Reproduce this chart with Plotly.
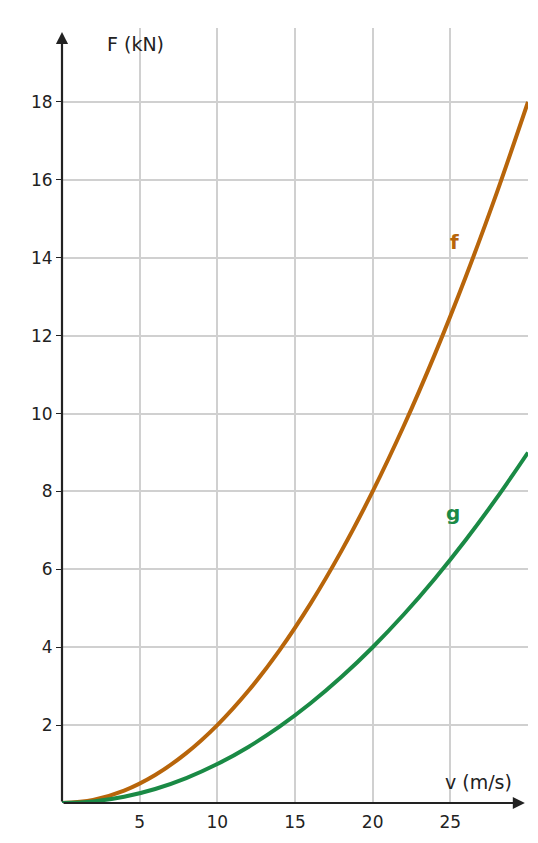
import plotly.graph_objects as go

# speed values (m/s) and forces (kN)
speed = [0, 2, 4, 6, 8, 10, 12, 14, 16, 18, 20, 22, 24, 26, 28, 30]
force_f = [0, 0.08, 0.32, 0.72, 1.28, 2.0, 2.88, 3.92, 5.12, 6.48, 8.0, 9.68, 11.52, 13.52, 15.68, 18.0]
force_g = [0, 0.04, 0.16, 0.36, 0.64, 1.0, 1.44, 1.96, 2.56, 3.24, 4.0, 4.84, 5.76, 6.76, 7.84, 9.0]
x_ticks = [5, 10, 15, 20, 25]
y_ticks = [2, 4, 6, 8, 10, 12, 14, 16, 18]

orange = '#b8650a'
green = '#1a8a45'
ink = '#222222'

fig = go.Figure()
fig.add_trace(go.Scatter(x=speed, y=force_f, mode='lines', line=dict(color=orange, width=4, shape='spline')))
fig.add_trace(go.Scatter(x=speed, y=force_g, mode='lines', line=dict(color=green, width=4, shape='spline')))

fig.update_layout(
    width=538, height=843, showlegend=False,
    plot_bgcolor='white', paper_bgcolor='white',
    margin=dict(l=54, r=18, t=20, b=48),
    font=dict(family='DejaVu Sans', size=17, color=ink),
)
fig.update_xaxes(range=[0, 30], tickvals=x_ticks, showgrid=True, gridcolor='#d0d0d0', gridwidth=1.5,
                 zeroline=False, showline=False, ticks='outside', ticklen=4, tickcolor='white',
                 automargin=False, tickfont=dict(size=17, color=ink))
fig.update_yaxes(range=[0, 19.9], tickvals=y_ticks, showgrid=True, gridcolor='#d0d0d0', gridwidth=1.5,
                 zeroline=False, showline=False, ticks='outside', ticklen=5, tickcolor=ink,
                 automargin=False, tickfont=dict(size=17, color=ink))

# axis arrows
fig.add_annotation(x=29.8, y=0, ax=0, ay=0, xref='x', yref='y', axref='x', ayref='y', text='',
                   showarrow=True, arrowhead=2, arrowsize=1.1, arrowwidth=2.2, arrowcolor=ink)
fig.add_annotation(x=0, y=19.8, ax=0, ay=0, xref='x', yref='y', axref='x', ayref='y', text='',
                   showarrow=True, arrowhead=2, arrowsize=1.1, arrowwidth=2.2, arrowcolor=ink)

fig.add_annotation(x=4.7, y=19.5, text='F (kN)', showarrow=False, font=dict(size=19, color=ink))
fig.add_annotation(x=26.8, y=0.55, text='v (m/s)', showarrow=False, font=dict(size=19, color=ink))
fig.add_annotation(x=-17, y=-18, xref='paper', yref='paper', xanchor='center', yanchor='middle',
                   text='0', showarrow=False, font=dict(size=17, color=ink))
fig.add_annotation(x=25.3, y=14.4, text='<b>f</b>', showarrow=False, font=dict(size=20, color=orange))
fig.add_annotation(x=25.2, y=7.45, text='<b>g</b>', showarrow=False, font=dict(size=20, color=green))

fig.write_html('out.html')
